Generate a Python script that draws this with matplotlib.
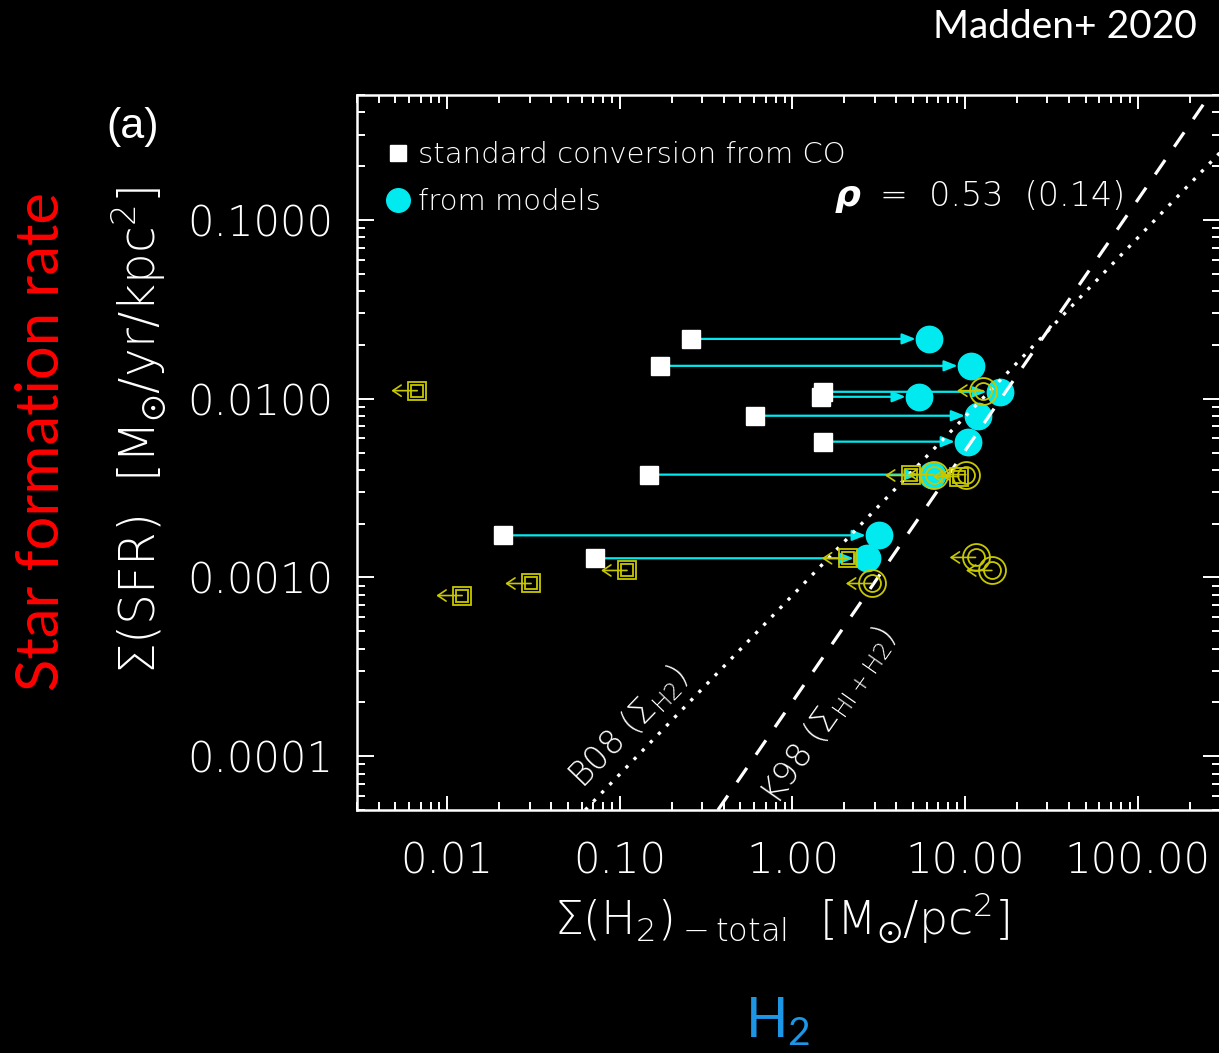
#!/usr/bin/env python3
#
# Sigma(SFR) vs Sigma(H2) - standard CO conversion vs. model values
#

import numpy as np
import matplotlib.pyplot as plt
from matplotlib.lines import Line2D
from matplotlib.ticker import FixedLocator, FixedFormatter, LogLocator, NullFormatter

# galaxies with both estimates (same SFR surface density)
sfr_pair = [0.0216, 0.01527, 0.01093, 0.01025, 0.00803, 0.00575, 0.00376, 0.00172, 0.00128]
h2_co = [0.258, 0.171, 1.50, 1.46, 0.607, 1.50, 0.148, 0.0211, 0.0719]
h2_model = [6.17, 10.8, 15.9, 5.40, 11.9, 10.4, 6.43, 3.17, 2.70]

# upper limits (CO conversion -> squares, models -> circles)
lim_co_x = [0.0067, 0.0306, 0.0122, 0.110, 4.85, 9.20, 2.09]
lim_co_y = [0.01109, 0.000925, 0.000792, 0.001094, 0.00372, 0.00367, 0.00128]
lim_mod_x = [12.7, 6.59, 10.1, 2.88, 11.5, 14.3]
lim_mod_y = [0.01109, 0.00376, 0.00376, 0.000925, 0.001294, 0.001094]
lim_arrow = 10 ** -0.15

# reference relations (end points)
b08_x = [0.063, 300.0]
b08_y = [5.0e-5, 0.238]
k98_x = [0.37, 262.0]
k98_y = [5.0e-5, 0.5]

xticks = [0.01, 0.1, 1.0, 10.0, 100.0]
xticklabels = ['0.01', '0.10', '1.00', '10.00', '100.00']
yticks = [0.0001, 0.001, 0.01, 0.1]
yticklabels = ['0.0001', '0.0010', '0.0100', '0.1000']

cyan = '#00eaf0'
yellow = '#c8c800'
W, H = 1219, 1053

plt.rcParams['font.family'] = 'DejaVu Sans'
plt.rcParams['font.weight'] = 'light'
plt.rcParams['mathtext.rm'] = 'Lato:weight=normal'
plt.rcParams['mathtext.it'] = 'Lato:italic:weight=normal'

fig = plt.figure(figsize=(W / 100, H / 100), dpi=100, facecolor='black')
ax = fig.add_axes([357 / W, (H - 810) / H, 863 / W, 715 / H])
ax.set_facecolor('black')
ax.set_xscale('log')
ax.set_yscale('log')
ax.set_xlim(0.003, 300)
ax.set_ylim(5e-5, 0.5)

for s in ax.spines.values():
	s.set_color('white')
	s.set_linewidth(1.8)

ax.xaxis.set_major_locator(FixedLocator(xticks))
ax.xaxis.set_major_formatter(FixedFormatter(xticklabels))
ax.yaxis.set_major_locator(FixedLocator(yticks))
ax.yaxis.set_major_formatter(FixedFormatter(yticklabels))
for a in (ax.xaxis, ax.yaxis):
	a.set_minor_locator(LogLocator(base=10, subs=np.arange(2, 10), numticks=20))
	a.set_minor_formatter(NullFormatter())
ax.tick_params(which='both', direction='in', top=True, right=True,
	colors='white', width=1.4, labelsize=30)
ax.tick_params(axis='x', which='major', length=10, pad=22)
ax.tick_params(axis='y', which='major', length=12, pad=17)
ax.tick_params(which='minor', length=5.5)

# arrows from CO-based value to model value
for xc, xm, y in zip(h2_co, h2_model, sfr_pair):
	ax.annotate('', xy=(xm, y), xytext=(xc, y), zorder=2,
		arrowprops=dict(arrowstyle='-|>,head_length=0.5,head_width=0.2',
			mutation_scale=16, color=cyan, lw=1.6, shrinkA=0, shrinkB=9.5))
ax.plot(h2_co, sfr_pair, 's', color='white', ms=13, zorder=3)
ax.plot(h2_model, sfr_pair, 'o', color=cyan, ms=19, zorder=4)

# relations
ax.plot(b08_x, b08_y, color='white', lw=2.4, ls=(0, (1, 2.5)), zorder=5)
ax.plot(k98_x, k98_y, color='white', lw=2.3, ls=(0, (5.5, 5)), zorder=5)
ax.text(0.112, 1.45e-4, r'B08 ($\Sigma_{\rm H2}$)', color='white', fontsize=24,
	rotation=46, ha='center', va='center', math_fontfamily='dejavusans')
ax.text(1.62, 1.69e-4, r'K98 ($\Sigma_{\rm HI+H2}$)', color='white', fontsize=24,
	rotation=55, ha='center', va='center', math_fontfamily='dejavusans')

# upper limits
for x, y in zip(lim_co_x + lim_mod_x, lim_co_y + lim_mod_y):
	ax.annotate('', xy=(x * lim_arrow, y), xytext=(x, y), zorder=6,
		arrowprops=dict(arrowstyle='->,head_length=0.6,head_width=0.4',
			mutation_scale=10, color=yellow, lw=1.2, shrinkA=0, shrinkB=0))
ax.plot(lim_co_x, lim_co_y, 's', mfc='none', mec=yellow, mew=1.3, ms=13, zorder=6)
ax.plot(lim_co_x, lim_co_y, 's', mfc='none', mec=yellow, mew=1.3, ms=8.7, zorder=6)
ax.plot(lim_mod_x, lim_mod_y, 'o', mfc='none', mec=yellow, mew=1.3, ms=19.4, zorder=6)
ax.plot(lim_mod_x, lim_mod_y, 'o', mfc='none', mec=yellow, mew=1.3, ms=12.2, zorder=6)

handles = [Line2D([], [], marker='s', color='white', ms=11, ls='none'),
	Line2D([], [], marker='o', color=cyan, ms=17, ls='none')]
leg = ax.legend(handles, ['standard conversion from CO', 'from models'],
	loc='upper left', bbox_to_anchor=(0.034, 0.935), frameon=False,
	fontsize=21, labelcolor='white', handlelength=0.8, handletextpad=0.3,
	borderpad=0, borderaxespad=0, labelspacing=0.65)

# rho
fig.text(835 / W, 1 - 206 / H, 'ρ', color='white', fontsize=26,
	style='italic', weight='bold')
fig.text(880 / W, 1 - 206 / H, '=  0.53  (0.14)', color='white', fontsize=24)

# axis titles
fig.text(140 / W, 1 - 430 / H, r'$\Sigma$(SFR)  [M$_{\odot}$/yr/kpc$^2$]',
	color='white', fontsize=35, rotation=90, ha='center', va='center')
fig.text(782 / W, 1 - 918 / H, r'$\Sigma$(H$_2$)$_{\rm -total}$  [M$_{\odot}$/pc$^2$]',
	color='white', fontsize=33, ha='center', va='center')

fig.text(42 / W, 1 - 442 / H, 'Star formation rate', color='#ff0000', family='Lato',
	weight='normal', fontsize=43, rotation=90, ha='center', va='center')
fig.text(778 / W, 1 - 1022 / H, r'H$_2$', color='#1e96e6', family='Lato',
	weight='normal', fontsize=40, ha='center', va='center', math_fontfamily='custom')
fig.text(1197 / W, 1 - 38 / H, 'Madden+ 2020', color='white', family='Lato',
	weight='normal', fontsize=28, ha='right', va='baseline')
fig.text(133 / W, 1 - 127 / H, '(a)', color='white', family='Liberation Sans',
	weight='normal', fontsize=31, ha='center', va='center')

plt.savefig('out.png', facecolor='black')
